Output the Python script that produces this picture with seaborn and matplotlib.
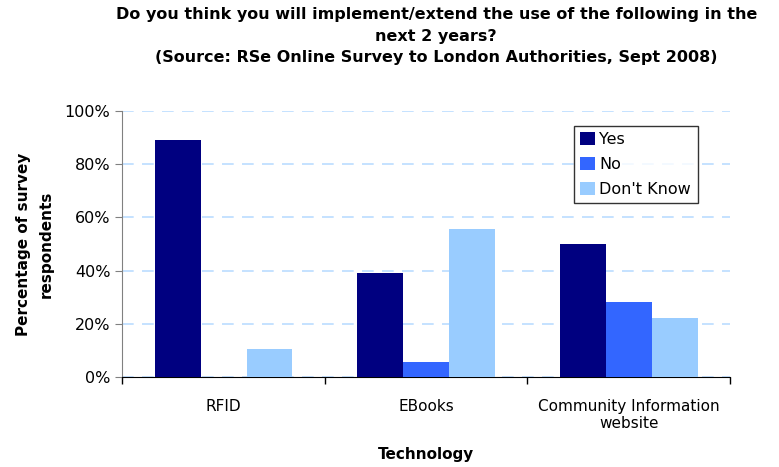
import pandas as pd
import matplotlib.pyplot as plt
import seaborn as sns
from matplotlib.ticker import PercentFormatter, FixedLocator

technologies = ["RFID", "EBooks", "Community Information\nwebsite"]
answers = ["Yes", "No", "Don't Know"]
yes_pct = [89, 39, 50]
no_pct = [0, 5.5, 28]
dont_know_pct = [10.5, 55.5, 22]
colors = ["#000080", "#3366FF", "#99CCFF"]

df = pd.DataFrame({
    "Technology": technologies * 3,
    "Answer": [a for a in answers for _ in technologies],
    "Percent": yes_pct + no_pct + dont_know_pct,
})

sns.set_style("white")
plt.rcParams["font.family"] = ["DejaVu Sans"]
plt.rcParams["text.color"] = "black"
plt.rcParams["xtick.color"] = "black"
plt.rcParams["ytick.color"] = "black"
plt.rcParams["axes.labelcolor"] = "black"

fig = plt.figure(figsize=(7.79, 4.67), dpi=100)
ax = fig.add_axes([0.157, 0.193, 0.78, 0.569])

sns.barplot(data=df, x="Technology", y="Percent", hue="Answer", hue_order=answers,
            palette=colors, width=0.68, saturation=1, linewidth=0, ax=ax, zorder=3)

ax.set_ylim(0, 100)
ax.set_yticks(range(0, 101, 20))
ax.yaxis.set_major_formatter(PercentFormatter(decimals=0))
ax.grid(axis="y", color="#BBDDFF", linestyle=(0, (7, 5)), linewidth=1.2, zorder=0)
ax.set_xlim(-0.5, 2.5)

ax.xaxis.set_minor_locator(FixedLocator([-0.5, 0.5, 1.5, 2.5]))
ax.tick_params(axis="x", which="major", length=0, labelsize=11, pad=16)
ax.tick_params(axis="x", which="minor", bottom=True, length=5, width=1,
               color="black", direction="out")
ax.tick_params(axis="y", length=5, direction="out", left=True, labelsize=11.5, color="#808080")

for side in ["top", "right"]:
    ax.spines[side].set_visible(False)
ax.spines["left"].set_color("#808080")
ax.spines["bottom"].set_color("black")

ax.set_xlabel("Technology", fontsize=11, fontweight="bold", labelpad=11)
ax.set_ylabel("Percentage of survey\nrespondents", fontsize=11, fontweight="bold",
              labelpad=8, linespacing=1.6)

leg = ax.legend(loc="upper left", bbox_to_anchor=(0.73, 0.975), fontsize=11.5, frameon=True,
                fancybox=False, edgecolor="black", handlelength=0.9, handleheight=0.9,
                handletextpad=0.3, borderpad=0.4, labelspacing=0.6)
leg.get_frame().set_linewidth(1)

fig.suptitle("Do you think you will implement/extend the use of the following in the\n"
             "next 2 years?\n(Source: RSe Online Survey to London Authorities, Sept 2008)",
             x=0.56, y=0.985, fontsize=11.5, fontweight="bold", linespacing=1.55)

fig.savefig("out.png", dpi=100)
